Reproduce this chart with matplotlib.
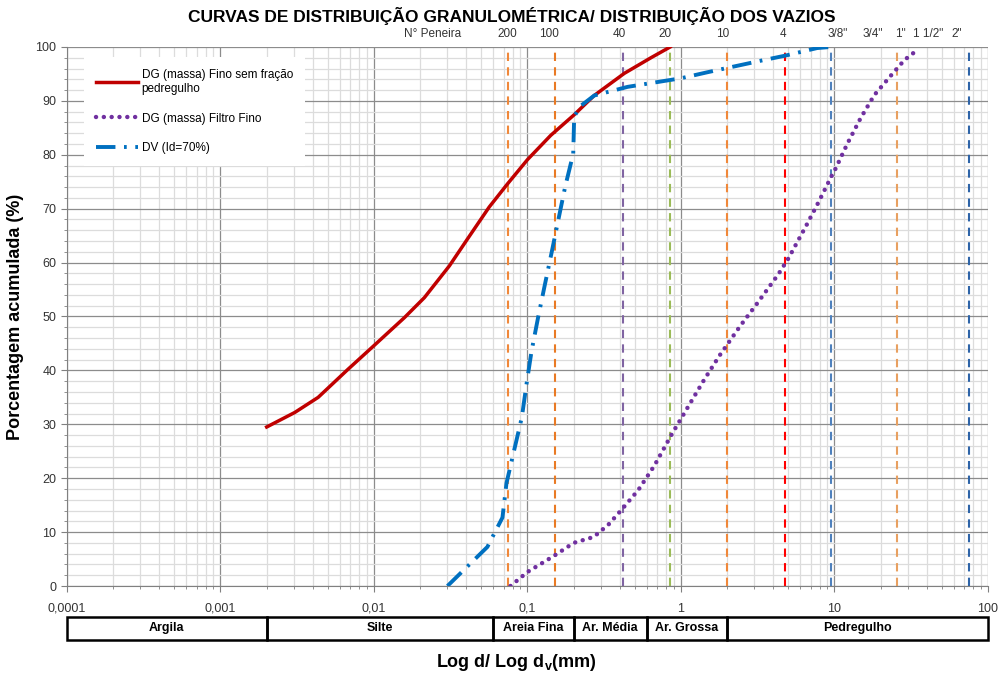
import math
import matplotlib
matplotlib.use("Agg")
import matplotlib.pyplot as plt
from matplotlib.ticker import FixedLocator, NullFormatter, FixedFormatter
from matplotlib import font_manager as fm

avail = {f.name for f in fm.fontManager.ttflist}
NARROW = 'Liberation Sans Narrow' if 'Liberation Sans Narrow' in avail else 'Liberation Sans'
plt.rcParams['font.family'] = ['Liberation Sans', 'DejaVu Sans']

# ---------------- data ----------------
red_x = [0.0020, 0.00305, 0.00433, 0.00677, 0.01, 0.0158, 0.0213, 0.031, 0.0407, 0.0563, 0.0741,
         0.1, 0.1417, 0.201, 0.272, 0.427, 0.637, 0.85]
red_y = [29.5, 32.2, 35.0, 40.2, 44.6, 49.8, 53.5, 59.4, 64.4, 70.3, 74.6,
         79.1, 83.6, 87.4, 91.0, 95.1, 98.0, 100.0]

pur_x = [0.0775, 0.1, 0.149, 0.2, 0.27, 0.337, 0.406, 0.527, 0.67, 0.869, 1.078, 1.418, 1.778,
         2.44, 3.13, 4.30, 4.99, 6.53, 7.9, 9.51, 10.15, 12.2, 14.8, 18.2, 23.8, 28.6, 35.2]
pur_y = [0.0, 2.6, 5.6, 8.0, 9.1, 11.4, 14.0, 17.8, 22.3, 28.1, 32.6, 38.3, 42.7,
         48.3, 52.4, 57.8, 60.7, 66.8, 71.3, 75.9, 77.4, 82.2, 86.8, 91.1, 95.0, 97.6, 99.6]

dv_x = [0.0301, 0.0548, 0.0687, 0.0730, 0.0819, 0.0919, 0.0985, 0.1062, 0.1174, 0.1298, 0.1442,
        0.1593, 0.1761, 0.1986, 0.2015, 0.2206, 0.2723, 0.4487, 1.0, 1.48, 2.07, 3.37, 4.79, 7.7, 9.4]
dv_y = [0.0, 7.25, 12.7, 19.1, 25.2, 31.3, 37.4, 43.5, 49.9, 55.9, 62.1,
        68.1, 74.1, 80.2, 87.1, 89.0, 91.0, 92.6, 94.2, 95.3, 96.2, 97.5, 98.4, 99.8, 100.0]

sieve_d = [0.075, 0.15, 0.42, 0.85, 2.0, 4.76, 9.5, 25.4, 75.0]
sieve_colors = ['#F0883A', '#E97A24', '#8064A2', '#9BBB59', '#F0883A', '#FF0000', '#4F81BD', '#E8A060', '#2E64A8']

sieve_labels = ['N° Peneira', '200', '100', '40', '20', '10', '4', '3/8"', '3/4"', '1"', '1 1/2"', '2"']
sieve_label_x = [0.0242, 0.0735, 0.138, 0.394, 0.787, 1.88, 4.62, 10.5, 17.8, 26.7, 40.6, 62.8]

x_ticks = [0.0001, 0.001, 0.01, 0.1, 1, 10, 100]
x_ticklabels = ['0,0001', '0,001', '0,01', '0,1', '1', '10', '100']

class_names = ['Argila', 'Silte', 'Areia Fina', 'Ar. Média', 'Ar. Grossa', 'Pedregulho']
class_bounds = [0.0001, 0.002, 0.06, 0.2, 0.6, 2.0, 100.0]

# ---------------- figure ----------------
fig = plt.figure(figsize=(10.01, 6.77), dpi=100)
ax = fig.add_axes([0.0669, 0.1344, 0.9201, 0.7962])
ax.set_xscale('log')
ax.set_xlim(1e-4, 100)
ax.set_ylim(0, 100)

minor_x = [m * 10.0 ** e for e in range(-4, 2) for m in range(2, 10)]
ax.xaxis.set_major_locator(FixedLocator(x_ticks))
ax.xaxis.set_major_formatter(FixedFormatter(x_ticklabels))
ax.xaxis.set_minor_locator(FixedLocator(minor_x))
ax.xaxis.set_minor_formatter(NullFormatter())
ax.yaxis.set_major_locator(FixedLocator(range(0, 101, 10)))
ax.yaxis.set_minor_locator(FixedLocator(range(0, 101, 2)))

ax.grid(which='major', color='#8C8C8C', lw=0.9)
ax.grid(which='minor', color='#DCDCDC', lw=0.9)
ax.set_axisbelow(True)
for s in ['top', 'right']:
    ax.spines[s].set_visible(False)
ax.spines['left'].set_color('#808080')
ax.spines['bottom'].set_color('#808080')
ax.tick_params(axis='both', which='major', labelsize=9, labelcolor='#333333', color='#808080', length=4)
ax.tick_params(axis='both', which='minor', color='#808080', length=2)
ax.tick_params(axis='x', pad=8)

for d, c in zip(sieve_d, sieve_colors):
    ax.axvline(d, color=c, lw=1.5, ls=(0, (4, 3)), zorder=2)

ax.plot(red_x, red_y, color='#C00000', lw=2.5, zorder=4, solid_joinstyle='round',
        label='DG (massa) Fino sem fração\npedregulho')
ax.plot(pur_x, pur_y, color='#7030A0', lw=3.2, ls=(0, (0.01, 1.75)), dash_capstyle='round', zorder=4,
        label='DG (massa) Filtro Fino')
ax.plot(dv_x, dv_y, color='#0070C0', lw=2.8, ls=(0, (5, 2.2, 0.7, 2.2)), dash_capstyle='butt', zorder=4,
        label='DV (Id=70%)')

leg = ax.legend(loc='upper left', bbox_to_anchor=(0.012, 0.992), fontsize=8.5, frameon=True,
                facecolor='white', edgecolor='none', framealpha=1, fancybox=False,
                handlelength=3.6, labelspacing=1.5, borderpad=1.0, handletextpad=0.3)
leg.set_zorder(6)

trans = matplotlib.transforms.blended_transform_factory(ax.transData, ax.transAxes)
for lab, xv in zip(sieve_labels, sieve_label_x):
    ax.text(xv, 1.013, lab, transform=trans, ha='center', va='bottom', fontsize=8.5, color='#333333')

ax.set_ylabel('Porcentagem acumulada (%)', fontsize=13, fontweight='bold', labelpad=8)
fig.text(0.511, 0.977, 'CURVAS DE DISTRIBUIÇÃO GRANULOMÉTRICA/ DISTRIBUIÇÃO DOS VAZIOS',
         ha='center', va='center', fontsize=12.5, fontweight='bold', family=[NARROW, 'DejaVu Sans'])
fig.text(0.516, 0.022, r'Log d/ Log d$_\mathregular{v}$(mm)', ha='center', va='center',
         fontsize=13, fontweight='bold')

# classification band
bx = fig.add_axes([0.0669, 0.0547, 0.9201, 0.034])
bx.set_xscale('log')
bx.set_xlim(1e-4, 100)
bx.set_ylim(0, 1)
bx.axis('off')
for i, name in enumerate(class_names):
    a, b = class_bounds[i], class_bounds[i + 1]
    bx.add_patch(plt.Rectangle((a, 0), b - a, 1, fill=False, ec='black', lw=1.8, clip_on=False))
    xm = 10 ** ((math.log10(a) + math.log10(b)) / 2)
    bx.text(xm, 0.5, name, ha='center', va='center', fontsize=9, fontweight='bold',
            family=[NARROW, 'DejaVu Sans'])

fig.savefig('out.png', dpi=100)
